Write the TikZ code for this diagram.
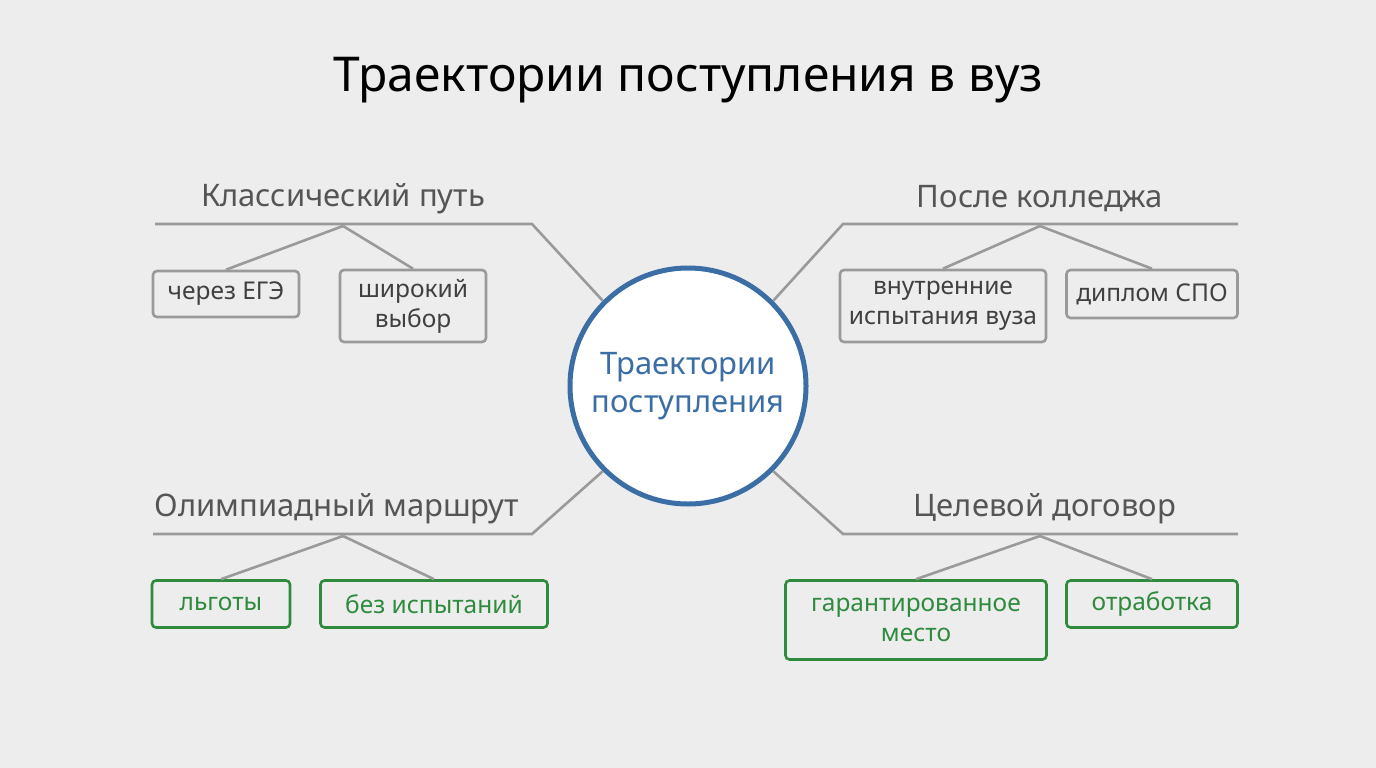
\documentclass[tikz,border=0pt]{standalone}
\usepackage{fontspec}
\setmainfont{Noto Sans}
\usetikzlibrary{positioning}
\definecolor{bg}{HTML}{EDEDED}
\definecolor{linegray}{HTML}{9A9A9A}
\definecolor{headgray}{HTML}{555555}
\definecolor{hubblue}{HTML}{3A6EA5}
\definecolor{leafgreen}{HTML}{2E8B3E}
\colorlet{leaf text}{black!75}
\tikzset{
  heading/.style={text=headgray, font=\fontsize{31}{34}\selectfont},
  leaf/.style={draw=linegray, line width=2.6pt, rounded corners=4pt, fill=bg,
    align=center, text=leaf text, font=\fontsize{24.5}{30}\selectfont, inner sep=0pt},
  green leaf/.style={leaf, draw=leafgreen, text=leafgreen},
  wire/.style={draw=linegray, line width=2.6pt}
}
\begin{document}
\begin{tikzpicture}[x=1pt, y=-1pt]
  \fill[bg] (0,0) rectangle (1376,768);
  \useasboundingbox (0,0) rectangle (1376,768);

  % title and hub
  \node[font=\fontsize{48}{54}\selectfont] (title) at (688,80) {Траектории поступления в вуз};
  \node[circle, draw=hubblue, line width=5pt, fill=white, minimum size=236pt,
    align=center, text=hubblue, font=\fontsize{31}{38}\selectfont] (hub) at (688,386)
    {Траектории\\поступления};

  % headings with their bars
  \foreach \name/\x/\y/\txt in {cl/343/199/Классический путь, co/1040/199/После колледжа,
      ol/337/509/Олимпиадный маршрут, ta/1045/509/Целевой договор}
    \node[heading] (\name) at (\x,\y) {\txt};
  \coordinate (cl-a) at (155,224);  \coordinate (cl-b) at (532,224);
  \coordinate (co-a) at (1238,224); \coordinate (co-b) at (843,224);
  \coordinate (ol-a) at (153,534);  \coordinate (ol-b) at (532,534);
  \coordinate (ta-a) at (1238,534); \coordinate (ta-b) at (843,534);
  \foreach \name/\ang in {cl/135, co/45, ol/225, ta/315}
    \path[wire] (\name-a) -- (\name-b) -- (hub.\ang);

  % leaves
  \node[leaf, minimum width=146pt, minimum height=46pt] (ege) at (226,294) {через ЕГЭ};
  \node[leaf, minimum width=146pt, minimum height=72pt] (wide) at (413,306) {широкий\\выбор};
  \node[leaf, minimum width=206pt, minimum height=72pt] (exam) at (943,306) {внутренние\\испытания вуза};
  \node[leaf, minimum width=171pt, minimum height=48pt] (spo) at (1152,294) {диплом СПО};
  \node[green leaf, minimum width=138pt, minimum height=47pt] (perk) at (221,604) {льготы};
  \node[green leaf, minimum width=227pt, minimum height=47pt] (free) at (434,604) {без испытаний};
  \node[green leaf, minimum width=261pt, minimum height=79pt] (place) at (916,620) {гарантированное\\место};
  \node[green leaf, minimum width=171pt, minimum height=47pt] (work) at (1152,604) {отработка};

  % branches
  \coordinate (cl-c) at (343,226); \coordinate (co-c) at (1040,226);
  \coordinate (ol-c) at (343,536); \coordinate (ta-c) at (1040,536);
  \foreach \src/\dst in {cl-c/ege, cl-c/wide, co-c/exam, co-c/spo,
      ol-c/perk, ol-c/free, ta-c/place, ta-c/work}
    \path[wire] (\src) -- (\dst.north);
\end{tikzpicture}
\end{document}
